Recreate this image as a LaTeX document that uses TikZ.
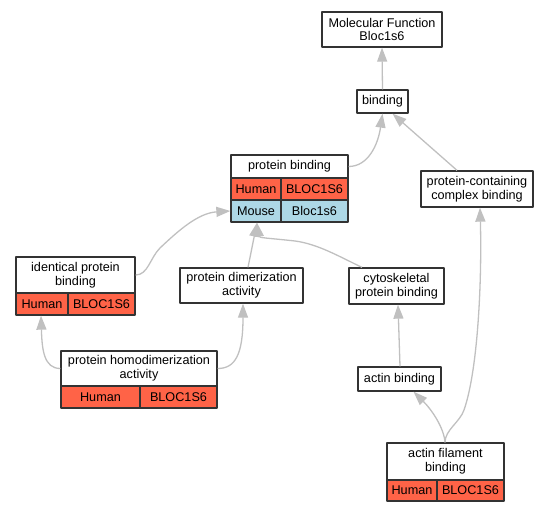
\documentclass[tikz,border=0pt]{standalone}
\usepackage{fontspec}
\setmainfont{Liberation Sans}
\usetikzlibrary{arrows.meta}
\definecolor{edgecol}{RGB}{192,192,192}
\definecolor{humancol}{RGB}{255,99,71}
\definecolor{mousecol}{RGB}{173,216,230}
\definecolor{strokecol}{RGB}{51,51,51}
\tikzset{
  term/.style={draw=strokecol, line width=1.3bp, fill=white, align=center, inner sep=0pt},
  cell/.style={term, minimum height=22bp},
  human/.style={cell, fill=humancol},
  mouse/.style={cell, fill=mousecol},
  edge/.style={draw=edgecol, line width=1.3bp, -{Triangle[length=14bp,width=10bp]}, fill=none},
}
\begin{document}
\begin{tikzpicture}[x=1bp,y=-1bp,line join=bevel,font=\fontsize{12.7}{14}\selectfont]
  \useasboundingbox (0,0) rectangle (549,512);
%%
  % Node: mf
  \node[term, minimum width=120bp, minimum height=35bp] (mf) at (382,29.5) {Molecular Function\\Bloc1s6};
  % Node: binding
  \node[term, minimum width=51bp, minimum height=23bp] (binding) at (382.5,101.5) {binding};
  % Node: pb
  \node[term, minimum width=117bp, minimum height=23bp] (pb) at (289.5,166.5) {protein binding};
  \node[human, minimum width=50bp] (pbH) at (256,189) {Human};
  \node[human, minimum width=67bp] (pbHg) at (314.5,189) {BLOC1S6};
  \node[mouse, minimum width=50bp] (pbM) at (256,211) {Mouse};
  \node[mouse, minimum width=67bp] (pbMg) at (314.5,211) {Bloc1s6};
  % Node: pcc
  \node[term, minimum width=112bp, minimum height=36bp] (pcc) at (477,189) {protein-containing\\complex binding};
  % Node: ipb
  \node[term, minimum width=119bp, minimum height=36bp] (ipb) at (75.5,275) {identical protein\\binding};
  \node[human, minimum width=52bp] (ipbH) at (42,304) {Human};
  \node[human, minimum width=67bp] (ipbHg) at (101.5,304) {BLOC1S6};
  % Node: dimer
  \node[term, minimum width=123bp, minimum height=35bp] (dimer) at (241.5,285.5) {protein dimerization\\activity};
  % Node: cyto
  \node[term, minimum width=95bp, minimum height=36bp] (cyto) at (396.5,286) {cytoskeletal\\protein binding};
  % Node: actin
  \node[term, minimum width=83bp, minimum height=24bp] (actin) at (399.5,379) {actin binding};
  % Node: hd
  \node[term, minimum width=156bp, minimum height=35bp] (hd) at (139,368.5) {protein homodimerization\\activity};
  \node[human, minimum width=79bp] (hdH) at (100.5,397) {Human};
  \node[human, minimum width=77bp] (hdHg) at (178.5,397) {BLOC1S6};
  % Node: afb
  \node[term, minimum width=117bp, minimum height=37bp] (afb) at (445.5,461.5) {actin filament\\binding};
  \node[human, minimum width=50bp, minimum height=21bp] (afbH) at (412,490.5) {Human};
  \node[human, minimum width=67bp, minimum height=21bp] (afbHg) at (470.5,490.5) {BLOC1S6};
%%
  % Edge: binding -> mf
  \draw[edge] (binding.north) -- (mf.south);
  % Edge: pb -> binding
  \draw[edge] (pb.east) .. controls (368,166.5) and (378,145) .. (binding.south);
  % Edge: pcc -> binding
  \draw[edge] ([xshift=-20bp]pcc.north) -- ([xshift=10bp]binding.south);
  % Edge: ipb -> pb
  \draw[edge] (ipb.east) .. controls (148,275) and (150,258) .. (160,248) .. controls (178,231) and (198,213) .. (pbM.west);
  % Edge: dimer -> pb
  \draw[edge] ([xshift=6.5bp]dimer.north) -- ([xshift=1bp]pbM.south);
  % Edge: cyto -> pb
  \draw[edge] ([xshift=-34.5bp]cyto.north) .. controls (340,257) and (318,244) .. (295,241) .. controls (268,238) and (259,238) .. ([xshift=1bp]pbM.south);
  % Edge: actin -> cyto
  \draw[edge] ([xshift=0.5bp]actin.north) -- ([xshift=1.5bp]cyto.south);
  % Edge: afb -> actin
  \draw[edge] ([xshift=-0.5bp]afb.north) .. controls (444,428) and (432,410) .. ([xshift=14bp]actin.south);
  % Edge: afb -> pcc
  \draw[edge] ([xshift=-0.5bp]afb.north) .. controls (445,430) and (460,422) .. (464,410) .. controls (478,370) and (482,280) .. ([xshift=3bp]pcc.south);
  % Edge: hd -> ipb
  \draw[edge] (hd.west) .. controls (44,368.5) and (42,350) .. ([xshift=-1bp]ipbH.south);
  % Edge: hd -> dimer
  \draw[edge] (hd.east) .. controls (235,368.5) and (243,355) .. ([xshift=1.5bp]dimer.south);
%
\end{tikzpicture}
\end{document}
